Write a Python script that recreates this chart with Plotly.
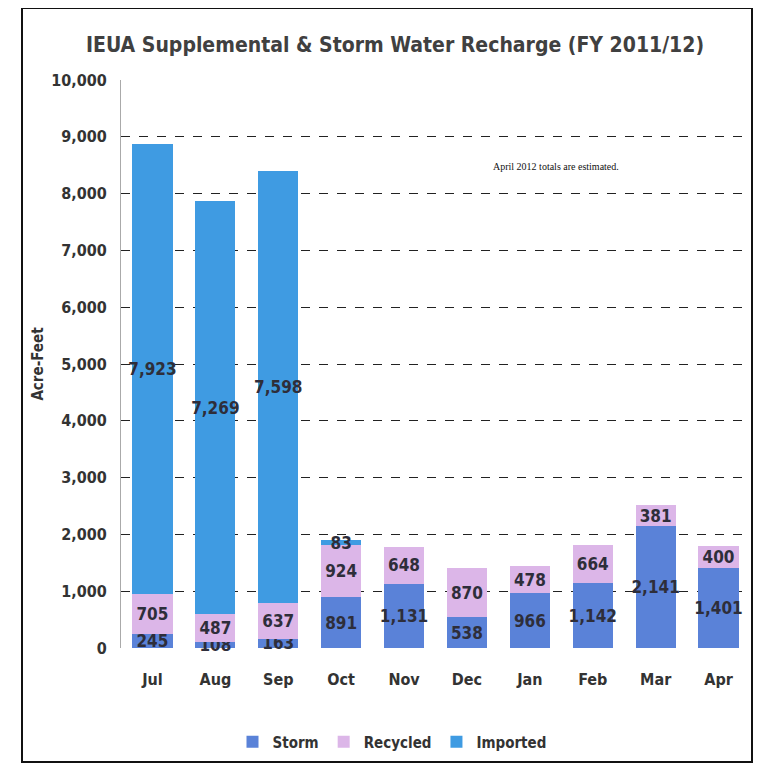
import plotly.graph_objects as go

months = ["Jul", "Aug", "Sep", "Oct", "Nov", "Dec", "Jan", "Feb", "Mar", "Apr"]
storm = [245, 108, 163, 891, 1131, 538, 966, 1142, 2141, 1401]
recycled = [705, 487, 637, 924, 648, 870, 478, 664, 381, 400]
imported = [7923, 7269, 7598, 83, 0, 0, 0, 0, 0, 0]
y_ticks = [0, 1000, 2000, 3000, 4000, 5000, 6000, 7000, 8000, 9000, 10000]

def labels(vals):
    return [f"{v:,}" if v > 0 else "" for v in vals]

COND = "DejaVu Sans Condensed, Open Sans, Arial"

fig = go.Figure()
series = [
    ("Storm", storm, "#5a82d8"),
    ("Recycled", recycled, "#dcb6e8"),
    ("Imported", imported, "#3f9be2"),
]
for name, vals, col in series:
    fig.add_trace(go.Bar(
        x=months, y=vals, name=name,
        marker=dict(color=col, line=dict(width=0)),
        text=labels(vals), textposition="inside", insidetextanchor="middle",
        textangle=0, constraintext="none", cliponaxis=False,
        textfont=dict(family=COND, size=17, color="#2e2e3a", weight="bold"),
    ))

W, H = 762, 769
OFF = 8
L, R, T, B = 113, 20, 72, 129
pw, ph = W - L - R, H - T - B

def px_x(x):
    return (x - OFF - L) / pw

def px_y(y):
    return (H - B - (y - OFF)) / ph

fig.update_layout(
    width=W, height=H,
    margin=dict(l=L, r=R, t=T, b=B),
    barmode="stack", bargap=0.36,
    paper_bgcolor="white", plot_bgcolor="white",
    font=dict(family=COND, color="#333"),
    title=dict(
        text="<b>IEUA Supplemental &amp; Storm Water Recharge (FY 2011/12)</b>",
        x=px_x(395), xanchor="center", xref="paper", y=1 - (45 - OFF) / H, yanchor="middle",
        font=dict(size=21, color="#404040", family=COND),
    ),
    xaxis=dict(
        showgrid=False, showline=False, ticks="", ticklabelstandoff=20,
        tickfont=dict(size=16, color="#333", weight="bold"),
    ),
    yaxis=dict(
        range=[0, 10000], tickvals=y_ticks, tickformat=",d",
        showgrid=True, gridcolor="#222", griddash="dash", gridwidth=1,
        zeroline=False, showline=True, linecolor="#aaa", linewidth=1,
        ticklabelstandoff=10,
        tickfont=dict(size=16, color="#333", weight="bold"),
        title=dict(text="<b>Acre-Feet</b>", font=dict(size=15, color="#333"), standoff=4),
    ),
    legend=dict(
        orientation="h", x=px_x(392), xanchor="center", y=px_y(742), yanchor="middle",
        font=dict(size=15, color="#333", weight="bold"), traceorder="normal",
        itemwidth=30, itemsizing="constant",
    ),
    shapes=[dict(
        type="rect", xref="paper", yref="paper",
        x0=px_x(22), x1=px_x(752), y0=px_y(762), y1=px_y(8),
        line=dict(color="#111", width=2), fillcolor="rgba(0,0,0,0)", layer="below",
    )],
    annotations=[dict(
        text="April 2012 totals are estimated.", xref="paper", yref="paper",
        x=px_x(556), y=px_y(166), xanchor="center", yanchor="middle", showarrow=False,
        font=dict(family="Liberation Serif, DejaVu Serif, serif", size=10, color="#111"),
    )],
)

fig.write_html("out.html")
